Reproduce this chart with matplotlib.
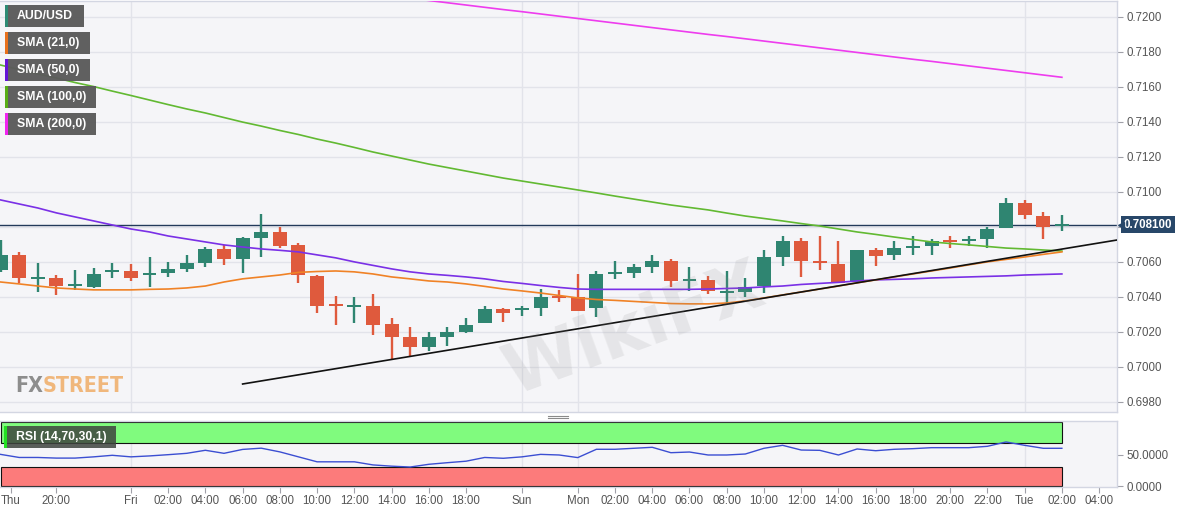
import matplotlib
matplotlib.use("Agg")
import matplotlib.pyplot as plt
from matplotlib.patches import Rectangle
from matplotlib.lines import Line2D
from matplotlib import font_manager as fm
import matplotlib.transforms as mtransforms

plt.rcParams['font.family'] = ['Liberation Sans', 'DejaVu Sans']

# ---------------- data (hourly AUD/USD candles, Thu 17:00 -> Tue 02:00) ----------------
opens = [0.70553, 0.70639, 0.70505, 0.70507, 0.70465, 0.70456, 0.70545,
         0.70547, 0.70528, 0.70536, 0.70559, 0.70593, 0.70673, 0.70616, 0.70736, 0.70770, 0.70696,
         0.70519, 0.70355, 0.70345, 0.70347, 0.70244, 0.70170, 0.70113, 0.70170, 0.70199, 0.70250, 0.70330,
         0.70328, 0.70336, 0.70402,
         0.70399, 0.70336, 0.70534, 0.70536, 0.70570, 0.70604, 0.70494, 0.70496, 0.70425, 0.70427,
         0.70461, 0.70627, 0.70719, 0.70601, 0.70587, 0.70484, 0.70667, 0.70639, 0.70682, 0.70690,
         0.70724, 0.70722, 0.70730, 0.70793,
         0.70936, 0.70862, 0.70805]
highs = [0.70724, 0.70656, 0.70593, 0.70524, 0.70553, 0.70564, 0.70593,
         0.70587, 0.70627, 0.70599, 0.70639, 0.70684, 0.70696, 0.70740, 0.70873, 0.70799, 0.70707,
         0.70524, 0.70404, 0.70399, 0.70416, 0.70279, 0.70227, 0.70199, 0.70227, 0.70279, 0.70347, 0.70336,
         0.70347, 0.70444, 0.70439,
         0.70530, 0.70547, 0.70604, 0.70587, 0.70639, 0.70616, 0.70570, 0.70519, 0.70547, 0.70507,
         0.70667, 0.70747, 0.70736, 0.70747, 0.70719, 0.70667, 0.70679, 0.70719, 0.70747, 0.70730,
         0.70747, 0.70747, 0.70799, 0.70964,
         0.70953, 0.70884, 0.70867]
lows = [0.70541, 0.70479, 0.70427, 0.70410, 0.70439, 0.70450, 0.70507,
        0.70490, 0.70456, 0.70513, 0.70541, 0.70570, 0.70581, 0.70536, 0.70627, 0.70679, 0.70479,
        0.70307, 0.70239, 0.70250, 0.70181, 0.70039, 0.70056, 0.70090, 0.70119, 0.70193, 0.70250, 0.70256,
        0.70290, 0.70290, 0.70370,
        0.70319, 0.70284, 0.70501, 0.70507, 0.70536, 0.70456, 0.70433, 0.70416, 0.70359, 0.70399,
        0.70421, 0.70576, 0.70513, 0.70553, 0.70479, 0.70484, 0.70576, 0.70610, 0.70639, 0.70639,
        0.70679, 0.70690, 0.70679, 0.70793,
        0.70845, 0.70730, 0.70776]
closes = [0.70639, 0.70507, 0.70509, 0.70461, 0.70469, 0.70530, 0.70549,
          0.70507, 0.70532, 0.70559, 0.70593, 0.70673, 0.70616, 0.70736, 0.70770, 0.70690, 0.70524,
          0.70347, 0.70350, 0.70349, 0.70239, 0.70170, 0.70113, 0.70170, 0.70199, 0.70239, 0.70330, 0.70307,
          0.70332, 0.70399, 0.70396,
          0.70319, 0.70530, 0.70538, 0.70570, 0.70604, 0.70490, 0.70498, 0.70433, 0.70429, 0.70456,
          0.70627, 0.70719, 0.70604, 0.70597, 0.70479, 0.70667, 0.70633, 0.70679, 0.70686, 0.70719,
          0.70713, 0.70726, 0.70787, 0.70936,
          0.70867, 0.70799, 0.70810]

sma21 = [0.70484, 0.70473, 0.70461, 0.70450, 0.70444, 0.70439, 0.70439, 0.70439, 0.70442, 0.70444,
         0.70450, 0.70461, 0.70484, 0.70502, 0.70513, 0.70524, 0.70539, 0.70544, 0.70547, 0.70542,
         0.70530, 0.70513, 0.70502, 0.70490, 0.70484, 0.70473, 0.70459, 0.70444, 0.70433, 0.70421,
         0.70407, 0.70393, 0.70384, 0.70379, 0.70373, 0.70367, 0.70361, 0.70359, 0.70359, 0.70364,
         0.70376, 0.70393, 0.70410, 0.70427, 0.70444, 0.70461, 0.70479, 0.70496, 0.70513, 0.70530,
         0.70547, 0.70564, 0.70582, 0.70599, 0.70613, 0.70627, 0.70642, 0.70656]
sma50 = [0.70953, 0.70930, 0.70907, 0.70879, 0.70856, 0.70833, 0.70810, 0.70787, 0.70770, 0.70747,
         0.70730, 0.70713, 0.70696, 0.70684, 0.70673, 0.70665, 0.70656, 0.70639, 0.70622, 0.70599,
         0.70579, 0.70559, 0.70542, 0.70530, 0.70522, 0.70513, 0.70502, 0.70487, 0.70476, 0.70464,
         0.70453, 0.70444, 0.70442, 0.70442, 0.70442, 0.70442, 0.70442, 0.70442, 0.70444, 0.70447,
         0.70450, 0.70456, 0.70461, 0.70470, 0.70476, 0.70482, 0.70490, 0.70496, 0.70499, 0.70502,
         0.70507, 0.70510, 0.70513, 0.70516, 0.70519, 0.70524, 0.70527, 0.70530]
sma100 = [0.71724, 0.71698, 0.71673, 0.71650, 0.71624, 0.71601, 0.71575, 0.71550, 0.71524, 0.71498,
          0.71473, 0.71450, 0.71424, 0.71398, 0.71375, 0.71350, 0.71327, 0.71301, 0.71278, 0.71253,
          0.71227, 0.71204, 0.71181, 0.71158, 0.71138, 0.71118, 0.71098, 0.71078, 0.71061, 0.71044,
          0.71027, 0.71010, 0.70993, 0.70975, 0.70958, 0.70941, 0.70924, 0.70910, 0.70896, 0.70878,
          0.70861, 0.70847, 0.70833, 0.70818, 0.70804, 0.70787, 0.70770, 0.70756, 0.70741, 0.70727,
          0.70713, 0.70704, 0.70696, 0.70687, 0.70678, 0.70673, 0.70667, 0.70661]
sma200 = [0.72390, 0.72377, 0.72364, 0.72351, 0.72338, 0.72325, 0.72313, 0.72300, 0.72287, 0.72274,
          0.72261, 0.72248, 0.72235, 0.72222, 0.72209, 0.72196, 0.72183, 0.72171, 0.72158, 0.72145,
          0.72132, 0.72119, 0.72106, 0.72093, 0.72080, 0.72067, 0.72054, 0.72041, 0.72029, 0.72016,
          0.72003, 0.71990, 0.71977, 0.71964, 0.71951, 0.71938, 0.71925, 0.71912, 0.71899, 0.71887,
          0.71874, 0.71861, 0.71848, 0.71835, 0.71822, 0.71809, 0.71796, 0.71783, 0.71770, 0.71757,
          0.71745, 0.71732, 0.71719, 0.71706, 0.71693, 0.71680, 0.71667, 0.71654]
rsi = [51, 46, 46, 45, 45, 47, 49.5, 47, 48.5, 50.5,
       52.7, 57.6, 52.7, 59, 61, 55, 47, 39, 39, 39,
       34, 32, 30.6, 35, 37.6, 40, 46, 44.7, 47, 51,
       50, 45.8, 59.2, 59.2, 60.8, 62.4, 53.7, 54.8, 50, 50,
       51.6, 60.8, 65.6, 58, 57.5, 50, 59.7, 56.9, 59.2, 60.2,
       61.8, 61.8, 61.8, 64, 71, 65.6, 60.8, 60.8]

trend_x = [13.0, 59.96]
trend_y = [0.69901, 0.70724]
last_price = 0.7081

price_ticks = [0.6980, 0.7000, 0.7020, 0.7040, 0.7060, 0.7080, 0.7100, 0.7120, 0.7140, 0.7160, 0.7180, 0.7200]
price_tick_labels = ["0.6980", "0.7000", "0.7020", "0.7040", "0.7060", "", "0.7100", "0.7120",
                     "0.7140", "0.7160", "0.7180", "0.7200"]
rsi_ticks = [0, 50]
rsi_tick_labels = ["0.0000", "50.0000"]
time_tick_pos = [0.55, 3, 7, 9, 11, 13, 15, 17, 19, 21, 23, 25, 28, 31, 33, 35, 37, 39, 41, 43,
                 45, 47, 49, 51, 53, 55, 57, 59]
time_tick_labels = ["Thu", "20:00", "Fri", "02:00", "04:00", "06:00", "08:00", "10:00", "12:00",
                    "14:00", "16:00", "18:00", "Sun", "Mon", "02:00", "04:00", "06:00", "08:00",
                    "10:00", "12:00", "14:00", "16:00", "18:00", "20:00", "22:00", "Tue", "02:00", "04:00"]
day_lines = [7, 28, 31, 55]

legend_names = ["AUD/USD", "SMA (21,0)", "SMA (50,0)", "SMA (100,0)", "SMA (200,0)"]
legend_colors = ["#2e8b74", "#e8701c", "#6414d6", "#58ad16", "#f024f0"]

# ---------------- styling ----------------
W, H = 1194, 513
BG = "#f5f5f8"
GRID = "#e2e3ea"
UP = "#2f8571"
DOWN = "#df5a3d"
C21, C50, C100, C200 = "#f08226", "#7a30e6", "#62b932", "#ee3cee"

fig = plt.figure(figsize=(W / 100, H / 100), dpi=100)
fig.patch.set_facecolor("white")


def fx(px):
    return px / W


def fy(py):
    return 1 - py / H


ax = fig.add_axes([0, fy(412), fx(1117), fy(1) - fy(412)])
rax = fig.add_axes([0, fy(487), fx(1117), fy(421) - fy(487)], sharex=ax)

for a in (ax, rax):
    a.set_facecolor(BG)
    for s in a.spines.values():
        s.set_color("#d3d6e2")
        s.set_linewidth(1.0)
    a.spines["left"].set_visible(False)

n = len(closes)
xs = list(range(n))

# main panel
ax.set_xlim(-0.03, 59.96)
ax.set_ylim(0.69741, 0.72090)
ax.set_yticks(price_ticks)
ax.set_yticklabels(price_tick_labels)
ax.yaxis.tick_right()
ax.tick_params(axis="y", length=4, color="#a0a0a8", labelcolor="#555555", labelsize=8.3, pad=3)
ax.tick_params(axis="x", bottom=False, labelbottom=False)
ax.grid(axis="y", color=GRID, lw=1.0, zorder=0)
for d in day_lines:
    ax.axvline(d, color=GRID, lw=1.0, zorder=0)
    rax.axvline(d, color=GRID, lw=1.0, zorder=0)

# candles
bw = 0.75
for i in xs:
    o, h, l, c = opens[i], highs[i], lows[i], closes[i]
    col = UP if c >= o else DOWN
    ax.vlines(i, l, h, color=col, lw=1.7, zorder=3)
    bottom = min(o, c)
    height = max(abs(c - o), 0.00012)
    if abs(c - o) < 0.00012:
        bottom = (o + c) / 2 - 0.00006
    ax.add_patch(Rectangle((i - bw / 2, bottom), bw, height, facecolor=col, edgecolor="none", zorder=3))

ax.plot(xs, sma200, color=C200, lw=1.2, zorder=4)
ax.plot(xs, sma100, color=C100, lw=1.2, zorder=4)
ax.plot(xs, sma50, color=C50, lw=1.2, zorder=4)
ax.plot(xs, sma21, color=C21, lw=1.2, zorder=4)
ax.plot(trend_x, trend_y, color="#111111", lw=1.2, zorder=5)
ax.axhline(last_price, color="#22395a", lw=1.0, zorder=2)

# last price tag
trans = mtransforms.blended_transform_factory(ax.transAxes, ax.transData)
ax.text(1 + 7 / 1117, last_price, f"{last_price:.6f}", transform=trans, ha="left", va="center",
        fontsize=8.3, fontweight="bold", color="white", clip_on=False, zorder=10,
        bbox=dict(boxstyle="square,pad=0.22", fc="#284769", ec="none"))
ax.plot([1 + 4 / 1117], [last_price], marker="<", ms=5, color="#284769", transform=trans,
        clip_on=False, zorder=10)

# RSI panel
rax.set_ylim(-1.6, 104.8)
rax.add_patch(Rectangle((0, 70), n - 1, 33, facecolor="#80fb7e", edgecolor="#111111", lw=0.8, zorder=1))
rax.add_patch(Rectangle((0, 0), n - 1, 30, facecolor="#fc7b7b", edgecolor="#111111", lw=0.8, zorder=1))
rax.plot(xs, rsi, color="#3b4ed2", lw=1.0, zorder=3)
rax.set_yticks(rsi_ticks)
rax.set_yticklabels(rsi_tick_labels)
rax.yaxis.tick_right()
rax.tick_params(axis="y", length=4, color="#a0a0a8", labelcolor="#555555", labelsize=8.3, pad=3)
rax.set_xticks(time_tick_pos)
rax.set_xticklabels(time_tick_labels)
rax.tick_params(axis="x", length=4, color="#a0a0a8", labelcolor="#555555", labelsize=8.3, pad=2)


# legend boxes
def label_box(x0, y0, x1, y1, bar_col, text, box_col="#5b5b5b", alpha=0.97):
    fig.add_artist(Rectangle((fx(x0), fy(y1)), fx(x1) - fx(x0), fy(y0) - fy(y1),
                             transform=fig.transFigure, facecolor=box_col, edgecolor="none",
                             alpha=alpha, zorder=20))
    fig.add_artist(Rectangle((fx(x0), fy(y1)), fx(3), fy(y0) - fy(y1),
                             transform=fig.transFigure, facecolor=bar_col, edgecolor="none", zorder=21))
    fig.text(fx(x0 + 12), fy((y0 + y1) / 2), text, color="white", fontsize=8.8, fontweight="bold",
             ha="left", va="center", zorder=22)


widths = [84, 90, 90, 96, 96]
for k, (name, col) in enumerate(zip(legend_names, legend_colors)):
    y0 = 5 + 27 * k
    label_box(5, y0, widths[k], y0 + 22, col, name)

label_box(4, 426, 116, 448, "#22e022", "RSI (14,70,30,1)", box_col="#3e443e", alpha=0.85)

# panel splitter handle
for yy in (415.5, 418.0):
    fig.add_artist(Line2D([fx(548), fx(568)], [fy(yy), fy(yy)], transform=fig.transFigure,
                          color="#8a8a8a", lw=0.8))


# FXSTREET logo (prefer a condensed bold face)
def pick_logo_font():
    best, best_score = None, -1
    for f in fm.fontManager.ttflist:
        nm = (f.name + " " + f.fname).lower()
        cond = ("narrow" in nm or "condensed" in nm or
                str(f.stretch) in ("condensed", "semi-condensed", "extra-condensed", "ultra-condensed"))
        if not cond or "mono" in nm or "serif" in nm.replace("sans", ""):
            continue
        w = f.weight
        if isinstance(w, str):
            w = {"bold": 700, "semibold": 600, "demibold": 600, "heavy": 800, "black": 900,
                 "extra bold": 800}.get(w, 400)
        score = 1000 - abs(int(w) - 700)
        if score > best_score:
            best, best_score = f, score
    if best is not None:
        return fm.FontProperties(fname=best.fname)
    return fm.FontProperties(family="DejaVu Sans", weight="bold")


logo_fp = pick_logo_font()
probe = fig.text(0, 0, "FXSTREET", fontproperties=logo_fp, fontsize=20)
fig.canvas.draw()
pw = probe.get_window_extent().width
probe.remove()
logo_size = min(20 * 109.0 / pw, 27)
t1 = fig.text(fx(15), fy(392), "FX", color="#8d8d8d", fontproperties=logo_fp, fontsize=logo_size,
              ha="left", va="baseline", zorder=6)
fig.canvas.draw()
bb = t1.get_window_extent()
fig.text(bb.x1 / W, fy(392), "STREET", color="#f0b77c", fontproperties=logo_fp, fontsize=logo_size,
         ha="left", va="baseline", zorder=6)

# faint WikiFX watermark
fig.text(fx(635), fy(330), "WikiFX", color="#8c8c8c", alpha=0.15, fontsize=50, fontweight="bold",
         rotation=20, ha="center", va="center", zorder=30, family="DejaVu Sans")

fig.savefig("out.png", dpi=100, facecolor="white")
